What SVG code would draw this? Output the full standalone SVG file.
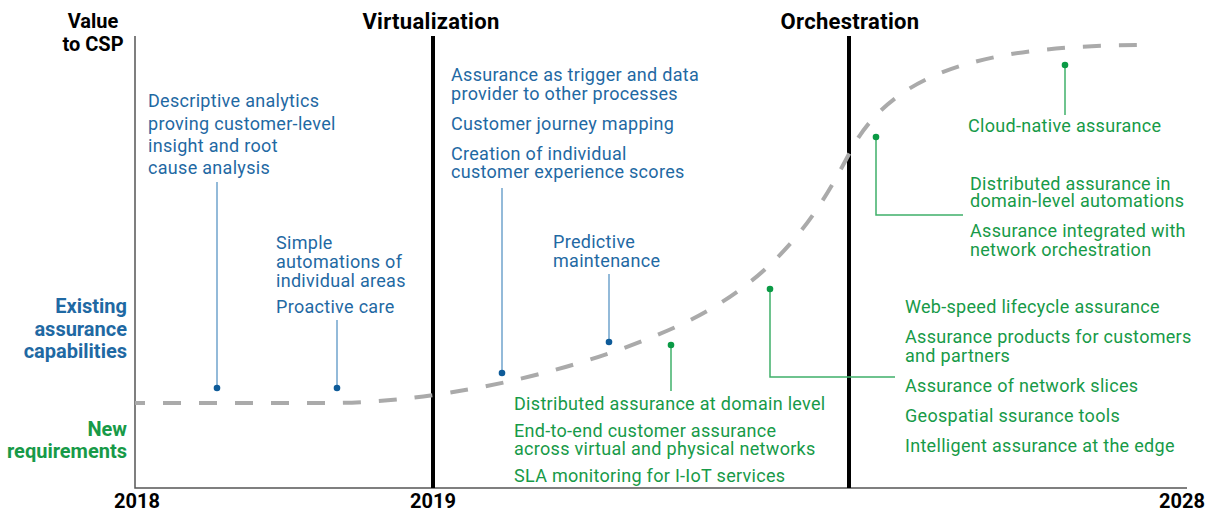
<svg xmlns="http://www.w3.org/2000/svg" width="1211" height="513" viewBox="0 0 1211 513">
<style>
text{font-family:Roboto,"Liberation Sans",sans-serif}
.t{font-size:18px;letter-spacing:0.3px}
.b{fill:#1f69a3}
.g{fill:#179a48}
.h{font-size:22px;font-weight:bold;fill:#000;letter-spacing:0.3px}
.lab{font-size:20px;font-weight:bold}
.lb{stroke:#6fa3cc;stroke-width:1.5;fill:none}
.lg{stroke:#3fb06a;stroke-width:1.5;fill:none}
.db{fill:#0e5b99}
.dg{fill:#0a9a45}
</style>
<rect width="1211" height="513" fill="#fff"/>
<g id="axes">
<path d="M135,36 V488 H1187" stroke="#555" stroke-width="1.5" fill="none"/>
<line x1="433" y1="36" x2="433" y2="488" stroke="#000" stroke-width="4"/>
<line x1="849" y1="36" x2="849" y2="488" stroke="#000" stroke-width="4"/>
<path d="M135,403 L330,403 C420,403 560,380 680,325 C780,278 820,210 850,152 C895,65 1000,45 1150,45" stroke="#aaa" stroke-width="4" fill="none" stroke-dasharray="18 18" stroke-dashoffset="8"/>
</g>
<g id="labels">
<text class="h" x="431" y="29" text-anchor="middle">Virtualization</text>
<text class="h" x="850" y="29" text-anchor="middle">Orchestration</text>
<text class="lab" x="93" y="28" text-anchor="middle">Value</text>
<text class="lab" x="93" y="51" text-anchor="middle">to CSP</text>
<g class="b" text-anchor="end"><text class="lab" x="127" y="313">Existing</text><text class="lab" x="127" y="336">assurance</text><text class="lab" x="127" y="358">capabilities</text></g>
<g class="g" text-anchor="end"><text class="lab" x="127" y="436">New</text><text class="lab" x="127" y="458">requirements</text></g>
<text class="lab" x="137" y="508" text-anchor="middle">2018</text>
<text class="lab" x="433" y="508" text-anchor="middle">2019</text>
<text class="lab" x="1205" y="508" text-anchor="end">2028</text>
</g>
<g id="connectors">
<line class="lb" x1="217" y1="388" x2="217" y2="182"/>
<line class="lb" x1="337" y1="388" x2="337" y2="320"/>
<line class="lb" x1="502" y1="373" x2="502" y2="188"/>
<line class="lb" x1="609" y1="342" x2="609" y2="274"/>
<line class="lg" x1="671" y1="345" x2="671" y2="391"/>
<polyline class="lg" points="770,289 770,377 895,377"/>
<polyline class="lg" points="876,137 876,215 963,215"/>
<line class="lg" x1="1065" y1="65" x2="1065" y2="115"/>
<circle class="db" cx="217" cy="388" r="3.3"/>
<circle class="db" cx="337" cy="388" r="3.3"/>
<circle class="db" cx="502" cy="373" r="3.3"/>
<circle class="db" cx="609" cy="342" r="3.3"/>
<circle class="dg" cx="671" cy="345" r="3.3"/>
<circle class="dg" cx="770" cy="289" r="3.3"/>
<circle class="dg" cx="876" cy="137" r="3.3"/>
<circle class="dg" cx="1065" cy="65" r="3.3"/>
</g>
<g id="n-descriptive" class="t b"><text x="148" y="107">Descriptive analytics</text><text x="148" y="130">proving customer-level</text><text x="148" y="152">insight and root</text><text x="148" y="174">cause analysis</text></g>
<g id="n-simple" class="t b"><text x="276" y="249">Simple</text><text x="276" y="268">automations of</text><text x="276" y="287">individual areas</text><text x="276" y="313">Proactive care</text></g>
<g id="n-trigger" class="t b"><text x="451" y="81">Assurance as trigger and data</text><text x="451" y="100">provider to other processes</text><text x="451" y="130">Customer journey mapping</text><text x="451" y="160">Creation of individual</text><text x="451" y="178">customer experience scores</text></g>
<g id="n-predictive" class="t b"><text x="553" y="248">Predictive</text><text x="553" y="267">maintenance</text></g>
<g id="n-domain" class="t g"><text x="514" y="410">Distributed assurance at domain level</text><text x="514" y="437">End-to-end customer assurance</text><text x="514" y="455">across virtual and physical networks</text><text x="514" y="482">SLA monitoring for I-IoT services</text></g>
<g id="n-cloud" class="t g"><text x="968" y="132">Cloud-native assurance</text></g>
<g id="n-automations" class="t g"><text x="970" y="190">Distributed assurance in</text><text x="970" y="207">domain-level automations</text><text x="970" y="237">Assurance integrated with</text><text x="970" y="256">network orchestration</text></g>
<g id="n-webspeed" class="t g"><text x="905" y="313">Web-speed lifecycle assurance</text><text x="905" y="343">Assurance products for customers</text><text x="905" y="362">and partners</text><text x="905" y="392">Assurance of network slices</text><text x="905" y="422">Geospatial ssurance tools</text><text x="905" y="452">Intelligent assurance at the edge</text></g>
</svg>
